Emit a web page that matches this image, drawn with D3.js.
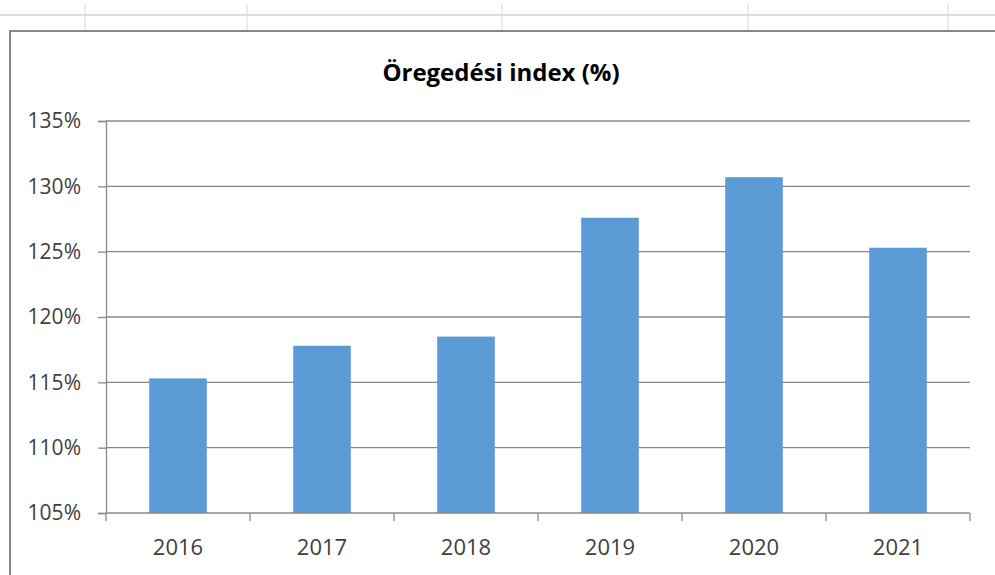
<!DOCTYPE html>
<html>
<head>
<meta charset="utf-8">
<script src="https://cdn.jsdelivr.net/npm/d3@7"></script>
<style>
  body { margin: 0; background: #fff; }
  svg text { font-family: "Open Sans", sans-serif; fill: #404040; }
</style>
</head>
<body>
<script>
var years = ["2016", "2017", "2018", "2019", "2020", "2021"];
var values = [115.3, 117.8, 118.5, 127.6, 130.7, 125.3];
var yTicks = [105, 110, 115, 120, 125, 130, 135];
var sheetCols = [85, 247, 502, 748, 948];

var chart = (function() {
    var w = 995, h = 575;

    var svg = d3.select("body")
                .append("svg")
                .attr("width", w)
                .attr("height", h);

    // spreadsheet cells behind the chart
    svg.append("line")
        .attr("x1", 0).attr("x2", w)
        .attr("y1", 15).attr("y2", 15)
        .attr("stroke", "#dedede")
        .attr("stroke-width", 2);

    svg.selectAll(".col")
        .data(sheetCols)
        .enter()
        .append("line")
        .attr("x1", d => d).attr("x2", d => d)
        .attr("y1", 4).attr("y2", 31)
        .attr("stroke", "#d8d8d8")
        .attr("stroke-width", 1);

    // chart box
    svg.append("rect")
        .attr("x", 10).attr("y", 31)
        .attr("width", w + 20).attr("height", h)
        .attr("fill", "#fff")
        .attr("stroke", "#888")
        .attr("stroke-width", 2);

    svg.append("text")
        .attr("x", 501)
        .attr("y", 81)
        .attr("text-anchor", "middle")
        .attr("font-size", 24)
        .attr("font-weight", "bold")
        .style("fill", "#000")
        .text("Öregedési index (%)");

    var pLeft = 106, pRight = 970, pTop = 121, pBottom = 513;

    var xScale = d3.scaleBand()
                    .domain(years)
                    .range([pLeft, pRight])
                    .paddingInner(0.6)
                    .paddingOuter(0.3);

    var yScale = d3.scaleLinear()
                    .domain([105, 135])
                    .range([pBottom, pTop]);

    // gridlines
    svg.append("g")
        .selectAll("line")
        .data(yTicks.slice(1))
        .enter()
        .append("line")
        .attr("x1", pLeft).attr("x2", pRight)
        .attr("y1", d => yScale(d)).attr("y2", d => yScale(d))
        .attr("stroke", "#898989")
        .attr("stroke-width", 1.3);

    svg.append("g")
        .selectAll("rect")
        .data(values)
        .enter()
        .append("rect")
        .attr("x", (d, i) => xScale(years[i]))
        .attr("y", d => yScale(d))
        .attr("width", xScale.bandwidth())
        .attr("height", d => pBottom - yScale(d))
        .attr("fill", "#5b9bd5");

    var yAxis = d3.axisLeft()
                .scale(yScale)
                .tickValues(yTicks)
                .tickSize(8)
                .tickPadding(17)
                .tickFormat(d => d + "%");

    var gy = svg.append("g")
        .attr("transform", "translate(" + pLeft + ",0)")
        .call(yAxis);

    // category axis, ticks at the band edges
    var edges = years.map(d => xScale(d) - xScale.step() * xScale.paddingInner() / 2);
    edges.push(pRight);

    var gx = svg.append("g");
    gx.append("line")
        .attr("x1", pLeft).attr("x2", pRight)
        .attr("y1", pBottom).attr("y2", pBottom);
    gx.selectAll(".tk")
        .data(edges)
        .enter()
        .append("line")
        .attr("x1", d => d).attr("x2", d => d)
        .attr("y1", pBottom).attr("y2", pBottom + 8);
    gx.selectAll("text")
        .data(years)
        .enter()
        .append("text")
        .attr("x", d => xScale(d) + xScale.bandwidth() / 2)
        .attr("y", pBottom + 42)
        .attr("text-anchor", "middle")
        .attr("font-size", 22)
        .text(d => d);
    gx.selectAll("line")
        .attr("stroke", "#898989")
        .attr("stroke-width", 1.3);

    gy.select(".domain").attr("stroke", "#898989").attr("stroke-width", 1.3);
    gy.selectAll(".tick line").attr("stroke", "#898989").attr("stroke-width", 1.3);
    gy.selectAll(".tick text")
        .attr("font-size", 21)
        .attr("font-family", "Open Sans, sans-serif")
        .style("fill", "#404040");
})();
</script>
</body>
</html>
